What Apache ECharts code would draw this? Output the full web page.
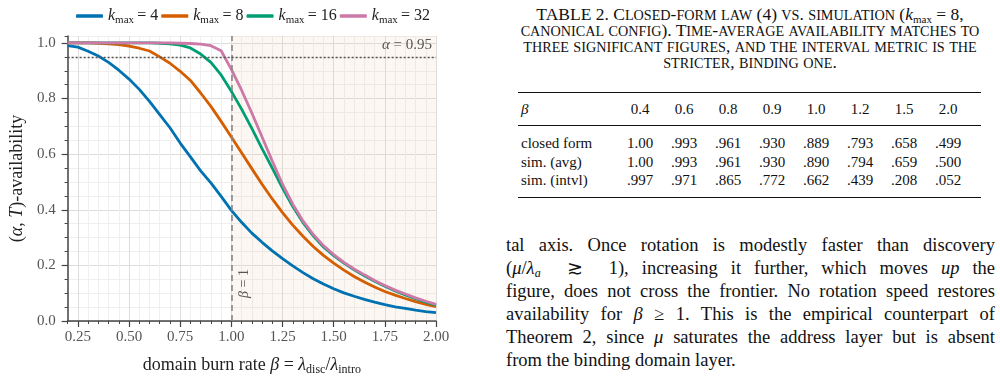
<!DOCTYPE html>
<html>
<head>
<meta charset="utf-8">
<script src="https://cdn.jsdelivr.net/npm/echarts@6/dist/echarts.min.js"></script>
<style>
body{margin:0;background:#fff;width:1000px;height:381px;overflow:hidden;position:relative;font-family:"Liberation Serif","Times New Roman",serif;color:#111}
#main{position:absolute;left:0;top:0;width:460px;height:381px}
.cap{position:absolute;left:503px;width:494px;top:6px;font-size:17.5px;line-height:16px;text-align:center;white-space:nowrap}
.cap div{height:16px}
.cap .sc{font-size:14.2px}
.cap sub{font-size:11px;line-height:0;vertical-align:-3px}
.tbl{position:absolute;left:518px;top:92px;border-collapse:collapse;font-size:15px;border-top:1.4px solid #111;border-bottom:1.4px solid #111}
.tbl td{padding:0;text-align:center;width:44px;white-space:nowrap}
.tbl td.l{text-align:left;width:97px;padding-left:3px}
.tbl td.e{width:11px}
.tbl tr.h td{height:32px;border-bottom:0.9px solid #111}
.tbl tr.d td{line-height:18.5px}
.tbl tr.d1 td{padding-top:8px}
.tbl tr.d3 td{padding-bottom:7px}
.par{position:absolute;left:506px;width:489px;top:234px;font-size:18.5px;line-height:23px}
.par div{height:23px;text-align:justify;text-align-last:justify;white-space:nowrap}
.par div.last{text-align-last:left}
.par sub{font-size:12px;line-height:0;vertical-align:-3px}
</style>
</head>
<body>
<div id="main"></div>

<div class="cap" id="cap"></div>

<table class="tbl" id="tbl"></table>

<div class="par">
<div>tal axis. Once rotation is modestly faster than discovery</div>
<div>(<i>&mu;</i>/<i>&lambda;<sub>a</sub></i> &nbsp;&#8819;&nbsp; 1), increasing it further, which moves <i>up</i> the</div>
<div>figure, does not cross the frontier. No rotation speed restores</div>
<div>availability for <i>&beta;</i> &ge; 1. This is the empirical counterpart of</div>
<div>Theorem 2, since <i>&mu;</i> saturates the address layer but is absent</div>
<div class="last">from the binding domain layer.</div>
</div>

<script>
// burn rate grid (x) and availability per k_max
var betas = [0.20,0.25,0.30,0.35,0.40,0.45,0.50,0.55,0.60,0.65,0.70,0.75,0.80,0.85,0.90,0.95,1.00,
             1.05,1.10,1.15,1.20,1.25,1.30,1.35,1.40,1.45,1.50,1.55,1.60,1.65,1.70,1.75,1.80,1.85,1.90,1.95,2.00];
var k4  = [0.990,0.985,0.970,0.953,0.930,0.902,0.870,0.833,0.790,0.742,0.695,0.640,0.590,0.540,0.497,0.448,0.398,
           0.355,0.316,0.283,0.252,0.224,0.198,0.174,0.152,0.133,0.116,0.101,0.089,0.078,0.068,0.059,0.051,0.045,0.039,0.034,0.030];
var k8  = [1.000,1.000,1.000,0.999,0.997,0.994,0.989,0.981,0.971,0.950,0.927,0.898,0.865,0.820,0.772,0.718,0.662,
           0.605,0.548,0.492,0.439,0.390,0.345,0.305,0.268,0.236,0.208,0.183,0.160,0.140,0.122,0.106,0.093,0.081,0.070,0.060,0.052];
var k16 = [1.000,1.000,1.000,1.000,1.000,1.000,1.000,1.000,1.000,0.999,0.997,0.992,0.982,0.960,0.930,0.885,0.826,
           0.762,0.693,0.620,0.550,0.478,0.412,0.354,0.306,0.266,0.235,0.208,0.184,0.163,0.143,0.125,0.108,0.094,0.080,0.068,0.057];
var k32 = [1.000,1.000,1.000,1.000,1.000,1.000,1.000,1.000,1.000,1.000,1.000,0.999,0.998,0.996,0.990,0.972,0.905,
           0.830,0.748,0.662,0.575,0.492,0.420,0.360,0.311,0.271,0.239,0.211,0.187,0.166,0.146,0.128,0.111,0.097,0.083,0.071,0.060];
var kNames = ['4','8','16','32'];
var kColors = ['#0072B2','#D55E00','#009E73','#CC79A7'];
var xMajor = [0.25,0.50,0.75,1.00,1.25,1.50,1.75,2.00];
var yMajor = [0.0,0.2,0.4,0.6,0.8,1.0];

// table 2 values
var tblBeta = ['0.4','0.6','0.8','0.9','1.0','1.2','1.5','2.0'];
var tblRows = [
  ['closed form', ['1.00','.993','.961','.930','.889','.793','.658','.499']],
  ['sim. (avg)',  ['1.00','.993','.961','.930','.890','.794','.659','.500']],
  ['sim. (intvl)',['.997','.971','.865','.772','.662','.439','.208','.052']]
];
var capLines = [
  'TABLE 2. Closed-form law (4) vs. simulation (@',
  'canonical config). Time-average availability matches to',
  'three significant figures, and the interval metric is the',
  'stricter, binding one.'
];

// fake small caps: lowercase -> smaller uppercase
function smallCaps(s){
    var out = '', run = '';
    for (var i = 0; i < s.length; i++) {
        var c = s[i];
        if (c === '@') {
            if (run) { out += '<span class="sc">' + run.toUpperCase() + '</span>'; run = ''; }
            out += '<i>k</i><sub>max</sub>&nbsp;=&nbsp;8,';
            continue;
        }
        if (c >= 'a' && c <= 'z') { run += c; }
        else {
            if (run) { out += '<span class="sc">' + run.toUpperCase() + '</span>'; run = ''; }
            out += c;
        }
    }
    if (run) out += '<span class="sc">' + run.toUpperCase() + '</span>';
    return out;
}
document.getElementById('cap').innerHTML = capLines.map(function(l){
    return '<div>' + smallCaps(l) + '</div>';
}).join('');

(function buildTable(){
    var html = '<tr class="h"><td class="l"><i>&beta;</i></td>';
    tblBeta.forEach(function(b){ html += '<td>' + b + '</td>'; });
    html += '<td class="e"></td></tr>';
    tblRows.forEach(function(r, i){
        html += '<tr class="d d' + (i+1) + '"><td class="l">' + r[0] + '</td>';
        r[1].forEach(function(v){ html += '<td>' + v + '</td>'; });
        html += '<td class="e"></td></tr>';
    });
    document.getElementById('tbl').innerHTML = html;
})();

var axisColor = '#444';
var minorGrid = '#f0efee';
var majorGrid = '#dedddc';
var font = 'Liberation Serif';

function pairs(ys){
    return betas.map(function(b, i){ return [b, ys[i]]; });
}

var seriesData = [k4, k8, k16, k32];
var series = seriesData.map(function(ys, i){
    return {
        name: kNames[i],
        type: 'line',
        data: pairs(ys),
        showSymbol: false,
        symbol: 'none',
        lineStyle: {width: 2.8, color: kColors[i]},
        itemStyle: {color: kColors[i]},
        z: 3
    };
});

series[0].markArea = {
    silent: true,
    itemStyle: {color: 'rgba(235,195,165,0.14)'},
    data: [[{xAxis: 1.0}, {xAxis: 2.0}]]
};
series[0].markLine = {
    silent: true,
    symbol: ['none','none'],
    z: 4,
    data: [
        {xAxis: 1.0, lineStyle: {type: [6,4], color: '#888', width: 1.6}, label: {show: false}},
        {yAxis: 0.95, lineStyle: {type: [2,2], color: '#555', width: 1.4},
         label: {show: true, position: 'insideEndTop', distance: 4,
                 formatter: '{i|\u03b1} = 0.95', color: '#555', fontSize: 15, fontFamily: font,
                 rich: {i: {fontStyle: 'italic', fontSize: 15, color: '#555', fontFamily: font}}}}
    ]
};
series[0].markPoint = {
    silent: true,
    symbol: 'circle',
    symbolSize: 0,
    data: [{coord: [1.062, 0.135],
            label: {show: true, position: 'inside', rotate: 90, formatter: '{i|\u03b2} = 1',
                    color: '#555', fontSize: 14, fontFamily: font,
                    rich: {i: {fontStyle: 'italic', fontSize: 14, color: '#555', fontFamily: font}}}}]
};

var chart = echarts.init(document.getElementById('main'));
chart.setOption({
    animation: false,
    textStyle: {fontFamily: font},
    grid: {left: 66, top: 36, width: 370, height: 289},
    legend: {
        top: 3, left: 71, itemGap: 3, itemWidth: 27, itemHeight: 3.5, icon: 'roundRect',
        data: kNames,
        textStyle: {fontSize: 16, color: '#222', fontFamily: font,
            rich: {
                k: {fontStyle: 'italic', fontSize: 16, fontFamily: font, color: '#222', lineHeight: 20},
                s: {fontSize: 11, fontFamily: font, color: '#222', verticalAlign: 'bottom', lineHeight: 12},
                t: {fontSize: 16, fontFamily: font, color: '#222', lineHeight: 20}
            }},
        formatter: function(name){ return '{k|k}{s|max}{t|\u2009= ' + name + '}'; }
    },
    xAxis: [
        {type: 'value', min: 0.2, max: 2.0, interval: 0.05, position: 'bottom',
         axisLine: {show: true, onZero: false, lineStyle: {color: axisColor, width: 1.5}},
         axisTick: {show: true, length: 3, lineStyle: {color: axisColor, width: 1}},
         axisLabel: {show: false},
         splitLine: {show: true, lineStyle: {color: [minorGrid, majorGrid, minorGrid, minorGrid, minorGrid], width: 1}}},
        {type: 'value', min: 0.2, max: 2.0, position: 'bottom',
         axisLine: {show: false, onZero: false},
         axisTick: {show: true, length: 6, customValues: xMajor, lineStyle: {color: axisColor, width: 1.2}},
         axisLabel: {show: true, customValues: xMajor, margin: 9, color: '#555', fontSize: 15, fontFamily: font,
                     formatter: function(v){ return v.toFixed(2); }},
         splitLine: {show: false},
         name: 'domain burn rate {i|\u03b2} = {i|\u03bb}{s|disc}/{i|\u03bb}{s|intro}',
         nameLocation: 'middle', nameGap: 33,
         nameTextStyle: {fontSize: 18, color: '#222', fontFamily: font,
            rich: {
                i: {fontStyle: 'italic', fontSize: 18, fontFamily: font, color: '#222', lineHeight: 22},
                s: {fontSize: 12, fontFamily: font, color: '#222', verticalAlign: 'bottom', lineHeight: 12}
            }}}
    ],
    yAxis: [
        {type: 'value', min: 0, max: 1.025, interval: 0.05, position: 'left',
         axisLine: {show: true, onZero: false, lineStyle: {color: axisColor, width: 1.5}},
         axisTick: {show: true, length: 3, lineStyle: {color: axisColor, width: 1}},
         axisLabel: {show: false},
         splitLine: {show: true, lineStyle: {color: [majorGrid, minorGrid, minorGrid, minorGrid], width: 1}}},
        {type: 'value', min: 0, max: 1.025, position: 'left',
         axisLine: {show: false, onZero: false},
         axisTick: {show: true, length: 6, customValues: yMajor, lineStyle: {color: axisColor, width: 1.2}},
         axisLabel: {show: true, customValues: yMajor, margin: 12, color: '#555', fontSize: 15, fontFamily: font,
                     formatter: function(v){ return v.toFixed(1); }},
         splitLine: {show: false},
         name: '({i|\u03b1}, {i|T})-availability',
         nameLocation: 'middle', nameGap: 39, nameRotate: 90,
         nameTextStyle: {fontSize: 18, color: '#222', fontFamily: font,
            rich: {i: {fontStyle: 'italic', fontSize: 18, fontFamily: font, color: '#222'}}}}
    ],
    series: series
});
</script>
</body>
</html>
